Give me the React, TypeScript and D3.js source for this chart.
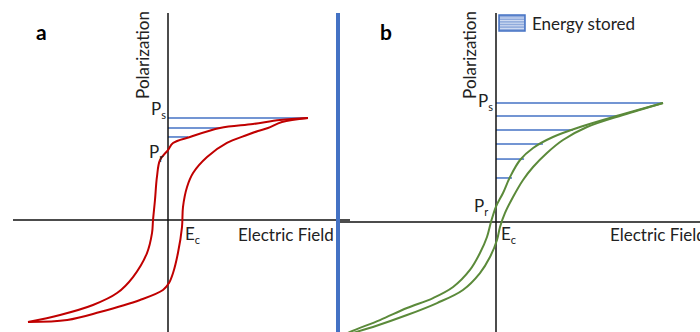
import React from "react";
import * as d3 from "d3";

// hysteresis loops, units: E and P scaled so the saturation point is (10, 10)
const loopAUpper: [number, number][] = [
  [10, 10], [8, 9.8], [6.07, 9.41], [3.71, 9.02], [1.57, 8.14], [0.36, 7.55],
  [0, 6.86], [-0.57, 5.88], [-0.79, 4.22], [-0.93, 1.96], [-1.07, 0],
  [-1.14, -1.27], [-1.5, -3.24], [-2.5, -5.59], [-3.64, -7.16], [-5.36, -8.33],
  [-7.71, -9.31], [-10, -10],
];
const loopALower: [number, number][] = [
  [-10, -10], [-7.2, -9.8], [-4.86, -9.02], [-2, -7.84], [-0.36, -6.86],
  [0.07, -6.18], [0.36, -5.2], [0.71, -3.24], [1.0, -0.69], [1.07, 1.27],
  [1.36, 3.24], [1.79, 4.61], [2.79, 6.18], [4.21, 7.55], [5.64, 8.33],
  [6.43, 8.73], [7.14, 9.02], [8.14, 9.61], [10, 10],
];
const loopBUpper: [number, number][] = [
  [10, 10], [7.43, 8.99], [5.03, 7.98], [3.41, 7.14], [2.22, 6.22], [1.44, 5.21],
  [0.84, 3.78], [0.42, 2.44], [0, 1.3], [-0.3, 0], [-0.54, -1.26],
  [-0.96, -2.61], [-1.56, -4.03], [-2.57, -5.46], [-3.77, -6.39],
  [-5.33, -7.23], [-6.95, -8.24], [-8.74, -9.24], [-9.34, -9.66],
];
const loopBLower: [number, number][] = [
  [10, 10], [7.6, 8.99], [5.45, 7.98], [4.01, 6.89], [3.05, 5.8], [2.22, 4.62],
  [1.62, 3.53], [1.02, 2.1], [0.54, 0.76], [0.24, -0.42], [0.06, -1.51],
  [-0.36, -2.94], [-0.96, -4.29], [-1.98, -5.71], [-3.53, -6.81],
  [-5.33, -7.82], [-7.37, -8.82], [-8.56, -9.33], [-9.34, -9.75],
];

// energy-stored hatch lines: [P, E where it meets the loop]
const hatchA: [number, number][] = [[10, 10], [9.02, 3.71], [8.14, 1.43]];
const hatchB: [number, number][] = [
  [10, 10], [8.91, 7.31], [7.73, 4.61], [6.55, 2.81], [5.29, 1.68], [3.7, 0.96],
];

const RED = "#c00000";
const GREEN = "#5b8a3a";
const BLUE = "#4472c4";
const FONT = "Lato, 'Open Sans', sans-serif";
const FS = 17;

function Sub({ x, y, main, sub }: { x: number; y: number; main: string; sub: string }) {
  return (
    <text x={x} y={y} fontSize={FS} fontFamily={FONT} fill="#222">
      {main}
      <tspan fontSize={11} dy={4}>{sub}</tspan>
    </text>
  );
}

export default function App() {
  const width = 700;
  const height = 332;

  // panel a scales
  const xA = d3.scaleLinear().domain([0, 10]).range([168, 308]);
  const yA = d3.scaleLinear().domain([0, 10]).range([220, 118]);
  // panel b scales
  const xB = d3.scaleLinear().domain([0, 10]).range([496, 663]);
  const yB = d3.scaleLinear().domain([0, 10]).range([222, 103]);

  const lineA = d3.line<[number, number]>()
    .x((d) => xA(d[0]))
    .y((d) => yA(d[1]))
    .curve(d3.curveCatmullRom.alpha(0.5));
  const lineB = d3.line<[number, number]>()
    .x((d) => xB(d[0]))
    .y((d) => yB(d[1]))
    .curve(d3.curveCatmullRom.alpha(0.5));

  return (
    <svg
      width={width}
      height={height}
      style={{ position: "absolute", left: 0, top: 0, background: "#fff" }}
    >
      {/* ---------- panel a ---------- */}
      <text x={36} y={40} fontSize={21} fontWeight="bold" fontFamily={FONT}>a</text>
      <text
        transform={`translate(149,55) rotate(-90)`}
        textAnchor="middle"
        fontSize={FS}
        fontFamily={FONT}
        fill="#222"
      >
        Polarization
      </text>

      {hatchA.map(([p, e], i) => (
        <line key={i} x1={xA(0)} x2={xA(e)} y1={yA(p)} y2={yA(p)} stroke={BLUE} strokeWidth={1.5} />
      ))}

      <line x1={168} x2={168} y1={13} y2={332} stroke="#111" strokeWidth={1.5} />
      <line x1={13} x2={350} y1={220} y2={220} stroke="#111" strokeWidth={1.5} />

      <path d={lineA(loopAUpper) ?? ""} fill="none" stroke={RED} strokeWidth={2} />
      <path d={lineA(loopALower) ?? ""} fill="none" stroke={RED} strokeWidth={2} />

      <Sub x={151} y={115} main="P" sub="s" />
      <Sub x={149} y={158} main="P" sub="r" />
      <Sub x={185} y={240} main="E" sub="c" />
      <text x={238} y={241} fontSize={FS} fontFamily={FONT} fill="#222">Electric Field</text>

      {/* divider */}
      <line x1={338} x2={338} y1={13} y2={332} stroke={BLUE} strokeWidth={4} />

      {/* ---------- panel b ---------- */}
      <text x={380} y={40} fontSize={21} fontWeight="bold" fontFamily={FONT}>b</text>
      <text
        transform={`translate(476,55) rotate(-90)`}
        textAnchor="middle"
        fontSize={FS}
        fontFamily={FONT}
        fill="#222"
      >
        Polarization
      </text>

      {hatchB.map(([p, e], i) => (
        <line key={i} x1={xB(0)} x2={xB(e)} y1={yB(p)} y2={yB(p)} stroke={BLUE} strokeWidth={1.5} />
      ))}

      <line x1={496} x2={496} y1={13} y2={332} stroke="#111" strokeWidth={1.5} />
      <line x1={340} x2={700} y1={222} y2={222} stroke="#111" strokeWidth={1.5} />

      <path d={lineB(loopBUpper) ?? ""} fill="none" stroke={GREEN} strokeWidth={2} />
      <path d={lineB(loopBLower) ?? ""} fill="none" stroke={GREEN} strokeWidth={2} />

      <Sub x={478} y={107} main="P" sub="s" />
      <Sub x={474} y={212} main="P" sub="r" />
      <Sub x={501} y={240} main="E" sub="c" />
      <text x={610} y={241} fontSize={FS} fontFamily={FONT} fill="#222">Electric Field</text>

      {/* legend */}
      <g>
        <rect x={499} y={15} width={26} height={16} fill="#8faadc" stroke={BLUE} strokeWidth={1.5} />
        {d3.range(5).map((i) => (
          <line key={i} x1={500} x2={524} y1={18 + i * 2.6} y2={18 + i * 2.6} stroke="#e8eefa" strokeWidth={0.8} />
        ))}
        <text x={532} y={30} fontSize={FS} fontFamily={FONT} fill="#222">Energy stored</text>
      </g>
    </svg>
  );
}
